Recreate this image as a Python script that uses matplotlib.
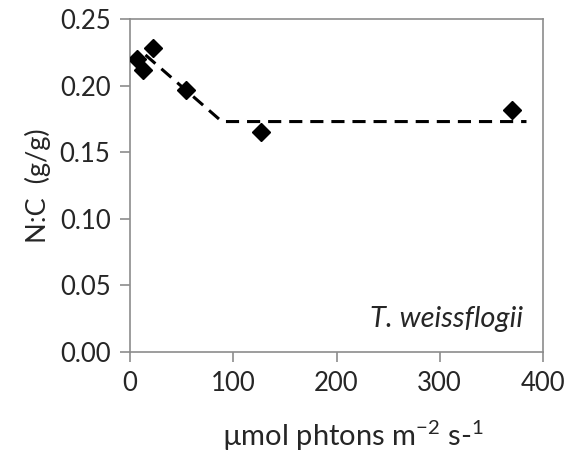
import matplotlib.pyplot as plt

# measured N:C ratio vs. irradiance
light = [7, 13, 22, 54, 127, 370]
nc_ratio = [0.220, 0.212, 0.228, 0.197, 0.165, 0.182]

# piecewise fit: linear decline then plateau
fit_light = [15, 89, 384]
fit_nc = [0.223, 0.173, 0.173]

plt.rcParams.update(
    {
        "font.family": ["Lato", "DejaVu Sans"],
        "font.size": 18.5,
        "mathtext.fontset": "custom",
        "mathtext.rm": "Lato",
        "mathtext.it": "Lato:italic",
    }
)

fig = plt.figure(figsize=(5.67, 4.63), dpi=100)
ax = fig.add_axes([130 / 567, 1 - 352 / 463, 413 / 567, 333 / 463])

ax.plot(fit_light, fit_nc, color="black", linewidth=2.2, dashes=(4.3, 2.6), zorder=2)
ax.plot(light, nc_ratio, linestyle="none", marker="D", markersize=9,
        color="black", zorder=3)

ax.set_xlim(0, 400)
ax.set_ylim(0, 0.25)
ax.set_xticks([0, 100, 200, 300, 400])
ax.set_yticks([0, 0.05, 0.10, 0.15, 0.20, 0.25])
ax.set_yticklabels([f"{v:.2f}" for v in ax.get_yticks()])

for spine in ax.spines.values():
    spine.set_color("#8c8c8c")
    spine.set_linewidth(1.2)
ax.tick_params(direction="out", length=7, width=1.2, color="#8c8c8c",
               labelcolor="#262626", pad=7)

ax.set_xlabel("µmol phtons m$^{-2}$ s-$^{1}$", color="#262626",
              fontsize=21, labelpad=16)
ax.xaxis.label.set_x(0.54)
ax.set_ylabel("N:C  (g/g)", color="#262626", fontsize=19.5, labelpad=6)

ax.text(0.952, 0.10, "T. weissflogii", transform=ax.transAxes, ha="right",
        va="center", style="italic", fontsize=21, color="#262626")

fig.savefig("out.png", dpi=100)
